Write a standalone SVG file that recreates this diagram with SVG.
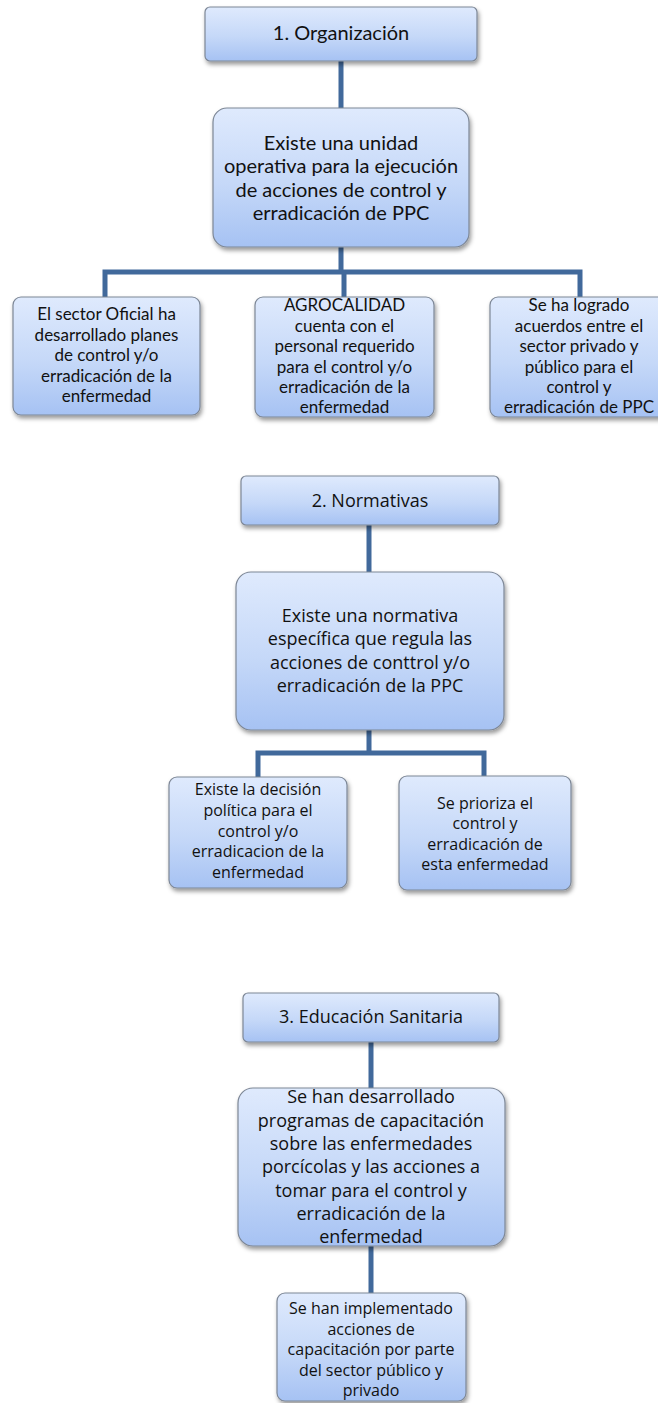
<svg xmlns="http://www.w3.org/2000/svg" width="658" height="1403" viewBox="0 0 658 1403">
<defs>
<linearGradient id="g" x1="0" y1="0" x2="0" y2="1">
<stop offset="0" stop-color="#dfeafd"/>
<stop offset="0.55" stop-color="#c5d8f8"/>
<stop offset="1" stop-color="#a6c2f3"/>
</linearGradient>
<filter id="sh" x="-10%" y="-10%" width="125%" height="130%">
<feDropShadow dx="1.5" dy="3" stdDeviation="2" flood-color="#000" flood-opacity="0.4"/>
</filter>
<style>
.box{fill:url(#g);stroke:#7d8796;stroke-width:1.2;filter:url(#sh)}
.c{fill:none;stroke:#41699b;stroke-width:5}
text{fill:#111;text-anchor:middle}
.a{font-family:Lato,"Liberation Sans",sans-serif}
.b{font-family:"Open Sans","Liberation Sans",sans-serif}
.a20{font-size:20px}
.a16{font-size:17px}
.b18{font-size:18px}
.b16{font-size:16px}
</style>
</defs>
<rect width="658" height="1403" fill="#fff"/>
<g id="connectors">
<path class="c" d="M341 61V108"/>
<path class="c" d="M341 247V272M105 297V272H580V297M344 272V297"/>
<path class="c" d="M369 525V572"/>
<path class="c" d="M369 730V753M258 777V753H484V777"/>
<path class="c" d="M371 1042V1088"/>
<path class="c" d="M371 1246V1293"/>
</g>
<g id="n1">
<rect class="box" x="205" y="7" width="272" height="54" rx="5"/>
<text class="a a20" x="341" y="40">1. Organización</text>
</g>
<g id="n2">
<rect class="box" x="213" y="108" width="256" height="139" rx="14"/>
<text class="a a20" x="341"><tspan x="341" y="150">Existe una unidad</tspan><tspan x="341" y="173">operativa para la ejecución</tspan><tspan x="341" y="197">de acciones de control y</tspan><tspan x="341" y="220">erradicación de PPC</tspan></text>
</g>
<g id="n3">
<rect class="box" x="13" y="297" width="187" height="118" rx="8"/>
<text class="a a16"><tspan x="106.5" y="320">El sector Oficial ha</tspan><tspan x="106.5" y="341">desarrollado planes</tspan><tspan x="106.5" y="361">de control y/o</tspan><tspan x="106.5" y="382">erradicación de la</tspan><tspan x="106.5" y="402">enfermedad</tspan></text>
</g>
<g id="n4">
<rect class="box" x="255" y="297" width="179" height="120" rx="8"/>
<text class="a a16"><tspan x="344.5" y="311">AGROCALIDAD</tspan><tspan x="344.5" y="332">cuenta con el</tspan><tspan x="344.5" y="352">personal requerido</tspan><tspan x="344.5" y="373">para el control y/o</tspan><tspan x="344.5" y="393">erradicación de la</tspan><tspan x="344.5" y="413">enfermedad</tspan></text>
</g>
<g id="n5">
<rect class="box" x="490" y="297" width="178" height="120" rx="8"/>
<text class="a a16"><tspan x="579" y="311">Se ha logrado</tspan><tspan x="579" y="332">acuerdos entre el</tspan><tspan x="579" y="352">sector privado y</tspan><tspan x="579" y="373">público para el</tspan><tspan x="579" y="393">control y</tspan><tspan x="579" y="413">erradicación de PPC</tspan></text>
</g>
<g id="n6">
<rect class="box" x="241" y="476" width="258" height="49" rx="5"/>
<text class="b b18" x="370" y="507">2. Normativas</text>
</g>
<g id="n7">
<rect class="box" x="236" y="572" width="268" height="158" rx="15"/>
<text class="b b18"><tspan x="370" y="622">Existe una normativa</tspan><tspan x="370" y="645">específica que regula las</tspan><tspan x="370" y="669">acciones de conttrol y/o</tspan><tspan x="370" y="692">erradicación de la PPC</tspan></text>
</g>
<g id="n8">
<rect class="box" x="169" y="777" width="178" height="111" rx="8"/>
<text class="b b16"><tspan x="258" y="795">Existe la decisión</tspan><tspan x="258" y="816">política para el</tspan><tspan x="258" y="837">control y/o</tspan><tspan x="258" y="857">erradicacion de la</tspan><tspan x="258" y="878">enfermedad</tspan></text>
</g>
<g id="n9">
<rect class="box" x="399" y="776" width="172" height="114" rx="8"/>
<text class="b b16"><tspan x="485" y="809">Se prioriza el</tspan><tspan x="485" y="829">control y</tspan><tspan x="485" y="850">erradicación de</tspan><tspan x="485" y="870">esta enfermedad</tspan></text>
</g>
<g id="n10">
<rect class="box" x="243" y="993" width="256" height="49" rx="5"/>
<text class="b b18" x="371" y="1023">3. Educación Sanitaria</text>
</g>
<g id="n11">
<rect class="box" x="238" y="1088" width="267" height="158" rx="15"/>
<text class="b b18"><tspan x="371" y="1103">Se han desarrollado</tspan><tspan x="371" y="1127">programas de capacitación</tspan><tspan x="371" y="1150">sobre las enfermedades</tspan><tspan x="371" y="1173">porcícolas y las acciones a</tspan><tspan x="371" y="1197">tomar para el control y</tspan><tspan x="371" y="1220">erradicación de la</tspan><tspan x="371" y="1243">enfermedad</tspan></text>
</g>
<g id="n12">
<rect class="box" x="277" y="1293" width="189" height="108" rx="8"/>
<text class="b b16"><tspan x="371" y="1314">Se han implementado</tspan><tspan x="371" y="1335">acciones de</tspan><tspan x="371" y="1355">capacitación por parte</tspan><tspan x="371" y="1376">del sector público y</tspan><tspan x="371" y="1396">privado</tspan></text>
</g>
</svg>
